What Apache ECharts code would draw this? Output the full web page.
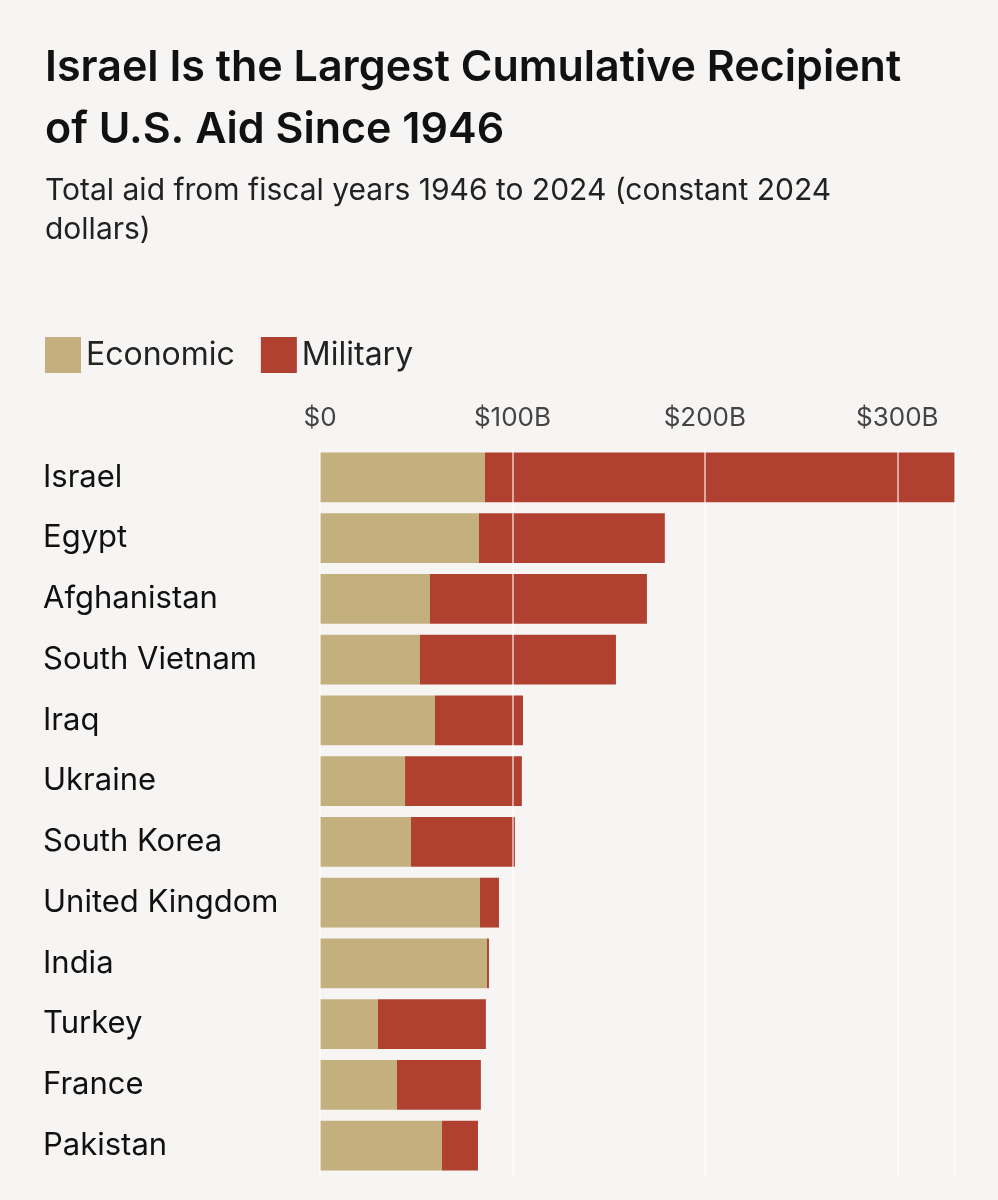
<!DOCTYPE html>
<html>
<head>
<meta charset="utf-8">
<script src="https://cdn.jsdelivr.net/npm/echarts@6/dist/echarts.min.js"></script>
<style>
  html, body { margin: 0; padding: 0; background: #f7f5f4; }
  #chart { width: 998px; height: 1200px; }
</style>
</head>
<body>
<div id="chart"></div>
<script>
// data (billions, constant 2024 dollars)
const countries = ['Israel', 'Egypt', 'Afghanistan', 'South Vietnam', 'Iraq', 'Ukraine',
  'South Korea', 'United Kingdom', 'India', 'Turkey', 'France', 'Pakistan'];
const economic = [85.7, 82.6, 57.1, 51.9, 59.7, 44.2, 47.3, 83.1, 86.8, 30.1, 40.0, 63.4];
const military = [244.3, 96.6, 112.8, 101.9, 45.8, 60.7, 54.0, 9.9, 1.0, 56.1, 43.6, 18.7];
const tickLabels = { 0: '$0', 100: '$100B', 200: '$200B', 300: '$300B' };

const font = 'Inter, "Noto Sans", sans-serif';
const chart = echarts.init(document.getElementById('chart'));

chart.setOption({
  backgroundColor: '#f7f5f4',
  animation: false,
  title: [
    {
      text: 'Israel Is the Largest Cumulative Recipient\nof U.S. Aid Since 1946',
      left: 40, top: 32,
      textStyle: { fontFamily: font, fontSize: 43, fontWeight: 600, color: '#111', lineHeight: 62 }
    },
    {
      text: 'Total aid from fiscal years 1946 to 2024 (constant 2024\ndollars)',
      left: 40, top: 166,
      textStyle: { fontFamily: font, fontSize: 30, fontWeight: 'normal', color: '#222', lineHeight: 39 }
    }
  ],
  legend: {
    left: 40, top: 332,
    itemWidth: 36, itemHeight: 36, itemGap: 26,
    icon: 'rect',
    textStyle: { fontFamily: font, fontSize: 32, color: '#222' },
    data: ['Economic', 'Military']
  },
  grid: { left: 320, right: 43, top: 447, bottom: 24 },
  xAxis: {
    type: 'value', position: 'top', min: 0, max: 330, interval: 100,
    z: 5,
    axisLine: { show: false }, axisTick: { show: false },
    splitLine: { show: true, lineStyle: { color: 'rgba(255,255,255,0.55)', width: 2 } },
    axisLabel: {
      fontFamily: font, fontSize: 26, color: '#444', margin: 16,
      formatter: v => tickLabels[v] || ''
    }
  },
  yAxis: {
    type: 'category', inverse: true, data: countries,
    axisLine: { show: false }, axisTick: { show: false },
    axisLabel: { fontFamily: font, fontSize: 31, color: '#111', align: 'left', margin: 277 }
  },
  series: [
    { name: 'Economic', type: 'bar', stack: 'aid', data: economic, barCategoryGap: '18%',
      itemStyle: { color: '#c4b07f' }, z: 2 },
    { name: 'Military', type: 'bar', stack: 'aid', data: military,
      itemStyle: { color: '#b04030' }, z: 2 }
  ]
});
</script>
</body>
</html>
